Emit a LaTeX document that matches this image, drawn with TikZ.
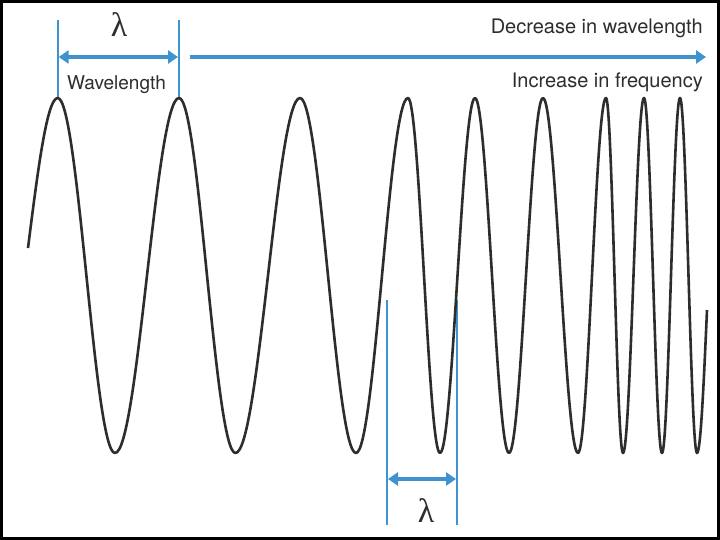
\documentclass[tikz,border=0pt]{standalone}
\usepackage{fontspec}
\setmainfont{TeX Gyre Heros}
\newfontfamily\greekfont{Liberation Serif}
\usepackage{tikz}
\usetikzlibrary{arrows.meta}
\definecolor{waveblue}{RGB}{62,146,208}
\definecolor{inkgray}{RGB}{45,45,45}

\begin{document}
\begin{tikzpicture}[x=1pt,y=-1pt,>={Triangle[length=10pt,width=13pt]},
		wave/.style={draw=inkgray,line width=2.6pt,line join=round},
		guide/.style={draw=waveblue,line width=1.8pt},
		span/.style={draw=waveblue,line width=4.5pt,shorten <=1pt,shorten >=1pt},
		label/.style={text=inkgray,inner sep=0pt,font=\fontsize{20}{22}\selectfont},
		lam/.style={text=inkgray,inner sep=0pt,font=\greekfont\fontsize{34}{36}\selectfont}]
		\useasboundingbox (0,0) rectangle (720,540);
		\fill[white] (0,0) rectangle (720,540);
		\draw[line width=3pt] (1.5,1.5) rectangle (718.5,538.5);
		
		% crests and feet of the two wavelength markers
		\coordinate (crestA) at (57.7,98);
		\coordinate (crestB) at (179,98);
		\coordinate (topA)   at (57.7,20);
		\coordinate (topB)   at (179,20);
		\coordinate (riseA)  at (387,300);
		\coordinate (riseB)  at (457,300);
		\coordinate (footA)  at (387,525);
		\coordinate (footB)  at (457,525);
		\coordinate (runL)   at (190,57);
		\coordinate (runR)   at (707,57);
		
		\draw[guide] (crestA) -- (topA);
		\draw[guide] (crestB) -- (topB);
		\draw[guide] (riseA) -- (footA);
		\draw[guide] (riseB) -- (footB);
		
		\draw[span,<->] (crestA |- runL) -- (crestB |- runL);
		\draw[span,->,shorten <=0pt] (runL) -- (runR);
		\draw[span,<->] (riseA |- 0,479) -- (riseB |- 0,479);
		
		% the wave, crest (y=98) to trough (y=453) by quarter waves
		\path[wave] (28,248) sin (crestA)
		cos (86.4,275.5) sin (115,453)
		cos (147,275.5) sin (crestB)
		cos (207,275.5) sin (235.5,453)
		cos (268,275.5) sin (300,98)
		cos (328,275.5) sin (356,453)
		cos (382,275.5) sin (408,98)
		cos (424,275.5) sin (440,453)
		cos (457.5,275.5) sin (475,98)
		cos (492,275.5) sin (509,453)
		cos (526,275.5) sin (543,98)
		cos (560.5,275.5) sin (578,453)
		cos (592,275.5) sin (606,98)
		cos (614.5,275.5) sin (623,453)
		cos (633.5,275.5) sin (644,98)
		cos (653,275.5) sin (662,453)
		cos (671,275.5) sin (680,98)
		cos (688.5,275.5) sin (697,453)
		cos (707,310);
		
		\node[label,anchor=base east] (decr) at (703,34) {Decrease in wavelength};
		\node[label,anchor=base east] (incr) at (703,88) {Increase in frequency};
		\node[label,anchor=base,font=\fontsize{19}{21}\selectfont] (wlen) at (116.5,90) {Wavelength};
		\node[lam,anchor=base] (lamtop) at (119,37) {λ};
		\node[lam,anchor=base] (lambot) at (426,522) {λ};
\end{tikzpicture}
\end{document}
